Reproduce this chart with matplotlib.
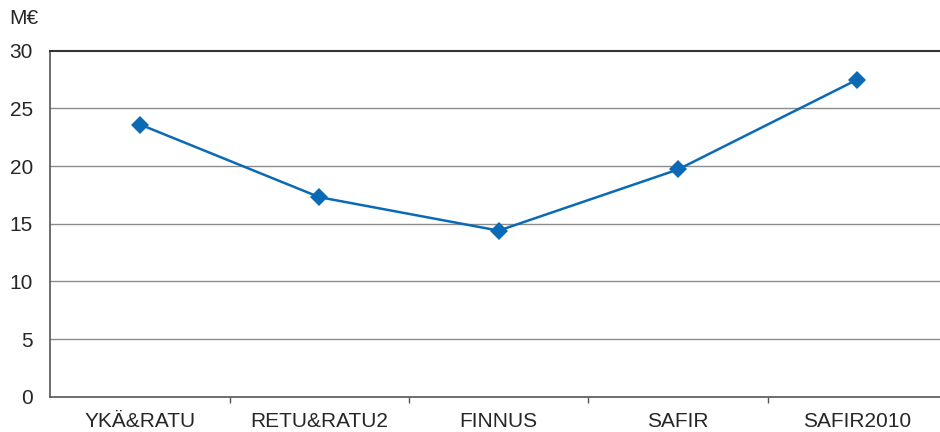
import matplotlib
matplotlib.use("Agg")
import matplotlib.pyplot as plt
from matplotlib.ticker import FixedLocator, NullFormatter

categories = ["YKÄ&RATU", "RETU&RATU2", "FINNUS", "SAFIR", "SAFIR2010"]
values = [23.6, 17.3, 14.4, 19.7, 27.5]
yticks = [0, 5, 10, 15, 20, 25, 30]
unit_label = "M€"

plt.rcParams['font.family'] = ['Liberation Sans', 'DejaVu Sans']

W, H = 940, 432
fig = plt.figure(figsize=(W / 100, H / 100), dpi=100)
left, right, top, bottom = 50.4, 947.0, 50.7, 396.7
ax = fig.add_axes([left / W, 1 - bottom / H, (right - left) / W, (bottom - top) / H])

x = list(range(len(categories)))
ax.plot(x, values, color="#0a6ab5", lw=1.8, marker="D", ms=9.5,
        markeredgewidth=0, zorder=3, clip_on=False)

ax.set_xlim(-0.5, len(categories) - 0.5)
ax.set_ylim(0, 30)
ax.set_yticks(yticks)
ax.set_yticklabels([str(v) for v in yticks])
ax.set_xticks(x)
ax.set_xticklabels(categories)
ax.xaxis.set_minor_locator(FixedLocator([i + 0.5 for i in range(len(categories) - 1)]))
ax.xaxis.set_minor_formatter(NullFormatter())

fs = 15
tc = "#262626"
ax.tick_params(axis="y", length=0, pad=12.5, labelsize=fs, labelcolor=tc)
ax.tick_params(axis="x", which="major", length=0, pad=11, labelsize=fs, labelcolor=tc)
ax.tick_params(axis="x", which="minor", length=4, width=1, color="#555555", direction="out")

for yv in yticks[1:-1]:
    ax.axhline(yv, color="#8c8c8c", lw=1, zorder=1)

ax.spines["right"].set_visible(False)
ax.spines["top"].set_color("#333333")
ax.spines["top"].set_linewidth(1.5)
ax.spines["left"].set_color("#555555")
ax.spines["left"].set_linewidth(1.2)
ax.spines["bottom"].set_color("#555555")
ax.spines["bottom"].set_linewidth(1.2)

fig.text(9 / W, 1 - 18 / H, unit_label, fontsize=fs, color=tc, va="center", ha="left")

fig.savefig("out.png", dpi=100)
